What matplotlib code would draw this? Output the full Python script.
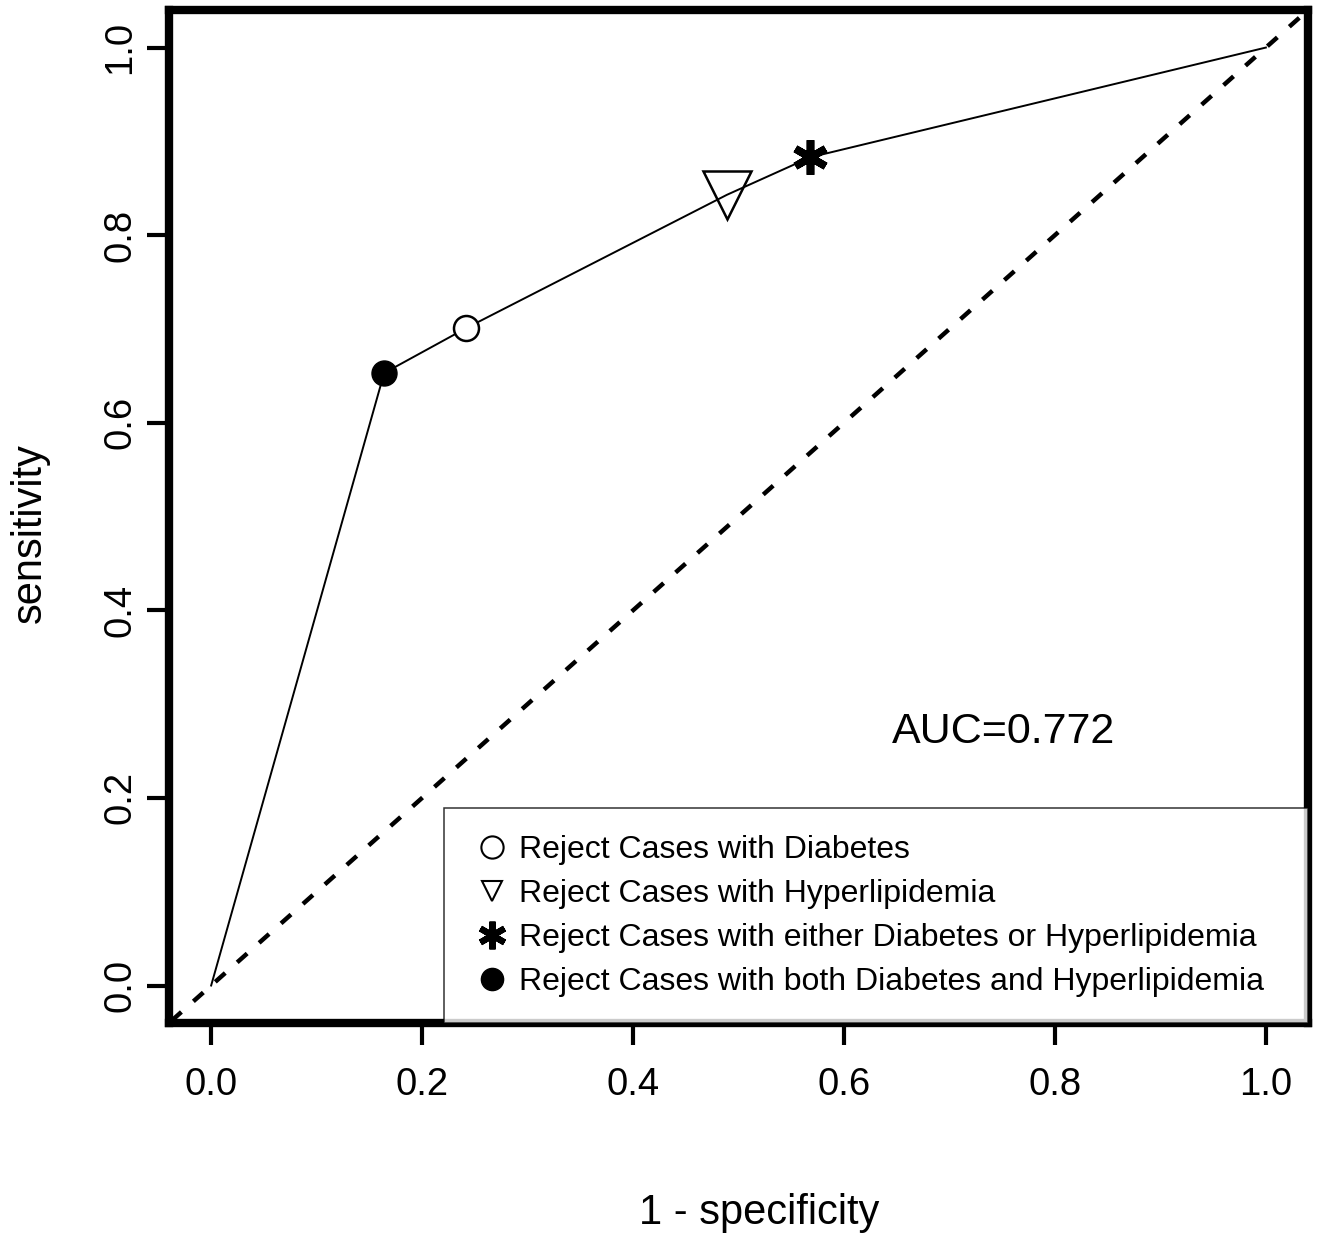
import matplotlib
matplotlib.use("Agg")
import matplotlib.pyplot as plt
from matplotlib.lines import Line2D

plt.rcParams['font.family'] = ['Liberation Sans', 'DejaVu Sans']

# ROC points
fpr = [0.0, 0.164, 0.242, 0.489, 0.568, 1.0]
tpr = [0.0, 0.653, 0.701, 0.843, 0.883, 1.0]

# marked cut-offs: (1 - specificity, sensitivity)
diabetes = (0.242, 0.701)
hyperlip = (0.489, 0.843)
either = (0.568, 0.883)
both = (0.164, 0.653)

legend_labels = ["Reject Cases with Diabetes",
                 "Reject Cases with Hyperlipidemia",
                 "Reject Cases with either Diabetes or Hyperlipidemia",
                 "Reject Cases with both Diabetes and Hyperlipidemia"]
ticks = [0.0, 0.2, 0.4, 0.6, 0.8, 1.0]
auc_text = "AUC=0.772"


def main():
    fig = plt.figure(figsize=(13.19, 12.39), dpi=100)
    ax = fig.add_axes([0.1281, 0.1743, 0.8636, 0.8176])

    ax.plot([-0.1, 1.1], [-0.1, 1.1], color='black', lw=3.2,
            linestyle=(0, (3.0, 3.6)), zorder=1)
    ax.plot(fpr, tpr, color='black', lw=1.4, zorder=2)

    ax.plot(*diabetes, marker='o', ms=18, mfc='white', mec='black', mew=1.8, zorder=3)
    ax.plot(*hyperlip, marker='v', ms=34, mfc='none', mec='black', mew=1.8, zorder=3)
    ax.plot(*either, marker=(6, 2, 0), ms=25, mec='black', mew=5.5, zorder=3)
    ax.plot(*both, marker='o', ms=18, mfc='black', mec='black', zorder=3)

    ax.text(0.751, 0.27, auc_text, fontsize=31, ha='center', va='center')

    handles = [
        Line2D([], [], ls='none', marker='o', ms=16, mfc='white', mec='black', mew=1.5),
        Line2D([], [], ls='none', marker='v', ms=14, mfc='none', mec='black', mew=1.5),
        Line2D([], [], ls='none', marker=(6, 2, 0), ms=20, mec='black', mew=4.5),
        Line2D([], [], ls='none', marker='o', ms=16, mfc='black', mec='black'),
    ]
    leg = ax.legend(handles, legend_labels, loc='lower left',
                    bbox_to_anchor=(0.2414, 0.0, 0.7586, 0.2), mode='expand',
                    borderaxespad=0, fontsize=23, frameon=True, fancybox=False,
                    borderpad=0.82, handlelength=1.36, handletextpad=0.165,
                    labelspacing=0.44)
    leg.get_frame().set_edgecolor('black')
    leg.get_frame().set_linewidth(1.1)

    ax.set_xlim(-0.04, 1.04)
    ax.set_ylim(-0.04, 1.04)
    ax.set_xticks(ticks)
    ax.set_yticks(ticks)
    ax.set_xticklabels(["%.1f" % t for t in ticks])
    ax.set_yticklabels(["%.1f" % t for t in ticks], rotation=90, va='center')
    ax.tick_params(axis='both', direction='out', length=16, width=3,
                   labelsize=27.5)
    ax.tick_params(axis='x', pad=16)
    ax.tick_params(axis='y', pad=6)
    for s in ax.spines.values():
        s.set_linewidth(6)

    fig.text(759 / 1319, 1 - 1213 / 1239, "1 - specificity", fontsize=30,
             ha='center', va='center')
    fig.text(30 / 1319, 1 - 533 / 1239, "sensitivity", fontsize=30,
             ha='center', va='center', rotation=90)

    fig.savefig("out.png", dpi=100)


if __name__ == "__main__":
    main()
